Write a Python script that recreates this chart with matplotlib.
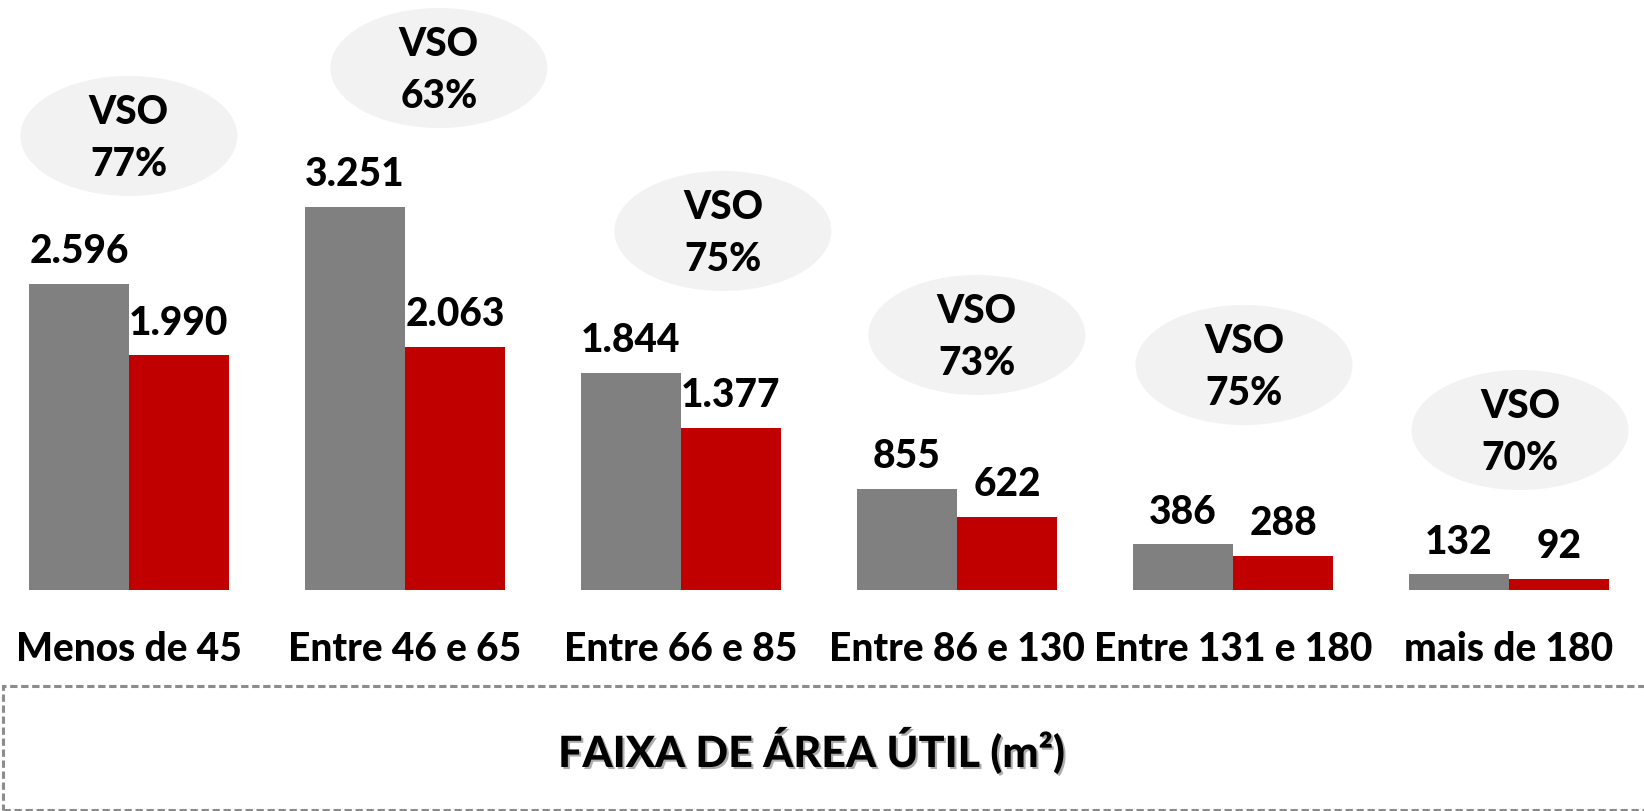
import matplotlib
matplotlib.use("Agg")
import matplotlib.pyplot as plt
import matplotlib.patheffects as pe
from matplotlib.patches import Ellipse, Rectangle
import numpy as np

plt.rcParams['font.family'] = ['Lato', 'DejaVu Sans']

# data
categories = ['Menos de 45', 'Entre 46 e 65', 'Entre 66 e 85',
              'Entre 86 e 130', 'Entre 131 e 180', 'mais de 180']
ofertas = [2596, 3251, 1844, 855, 386, 132]
vendas = [1990, 2063, 1377, 622, 288, 92]
vso = [77, 63, 75, 73, 75, 70]

# bubble placement (x shift in groups, y in data units)
bubble_dx = [0.0, 0.123, 0.152, 0.072, 0.04, 0.04]
bubble_y = [3851, 4427, 3045, 2163, 1908, 1357]

GRAY = '#808080'
RED = '#C00000'
FS = 28
WT = 'black'

fig = plt.figure(figsize=(16.44, 8.11), dpi=100)
ax = fig.add_axes([0, 221 / 811, 1, 590 / 811])
ax.set_xlim(-0.467, 5.489)
ax.set_ylim(0, 5004)
ax.axis('off')

x = np.arange(len(categories))
w = 0.3623
ax.bar(x - w / 2, ofertas, w, color=GRAY)
ax.bar(x + w / 2, vendas, w, color=RED)

def fmt(v):
    return f'{v:,}'.replace(',', '.')

for xi, v in zip(x - w / 2, ofertas):
    ax.annotate(fmt(v), (xi, v), xytext=(0, 15), textcoords='offset points',
                ha='center', va='baseline', fontsize=FS, fontweight=WT)
for xi, v in zip(x + w / 2, vendas):
    ax.annotate(fmt(v), (xi, v), xytext=(0, 15), textcoords='offset points',
                ha='center', va='baseline', fontsize=FS, fontweight=WT)

for i, p in enumerate(vso):
    cx = x[i] + bubble_dx[i]
    cy = bubble_y[i]
    ax.add_patch(Ellipse((cx, cy), 0.786, 1018, facecolor='#F2F2F2',
                         edgecolor='none', zorder=0))
    ax.annotate('VSO', (cx, cy), xytext=(0, 8.6), textcoords='offset points',
                ha='center', va='baseline', fontsize=FS, fontweight=WT)
    ax.annotate(f'{p}%', (cx, cy), xytext=(0, -28.8), textcoords='offset points',
                ha='center', va='baseline', fontsize=FS, fontweight=WT)

for xi, c in zip(x, categories):
    ax.text(xi, -602, c, ha='center', va='baseline', fontsize=FS,
            fontweight=WT, clip_on=False)

# dashed frame with axis title
fig.patches.append(Rectangle((3 / 1644, 1 / 811), 1.0, 124 / 811,
                             transform=fig.transFigure, fill=False,
                             edgecolor='#8C8C8C', linewidth=2.2,
                             linestyle=(0, (2.4, 1.2))))
fig.text(811 / 1644, 1 - 767 / 811, 'FAIXA DE ÁREA ÚTIL (m²)', ha='center',
         va='baseline', fontsize=31, fontweight=WT,
         path_effects=[pe.withSimplePatchShadow(offset=(1.5, -1.5),
                                                shadow_rgbFace='#777777',
                                                alpha=0.6)])

fig.savefig('out.png', dpi=100)
